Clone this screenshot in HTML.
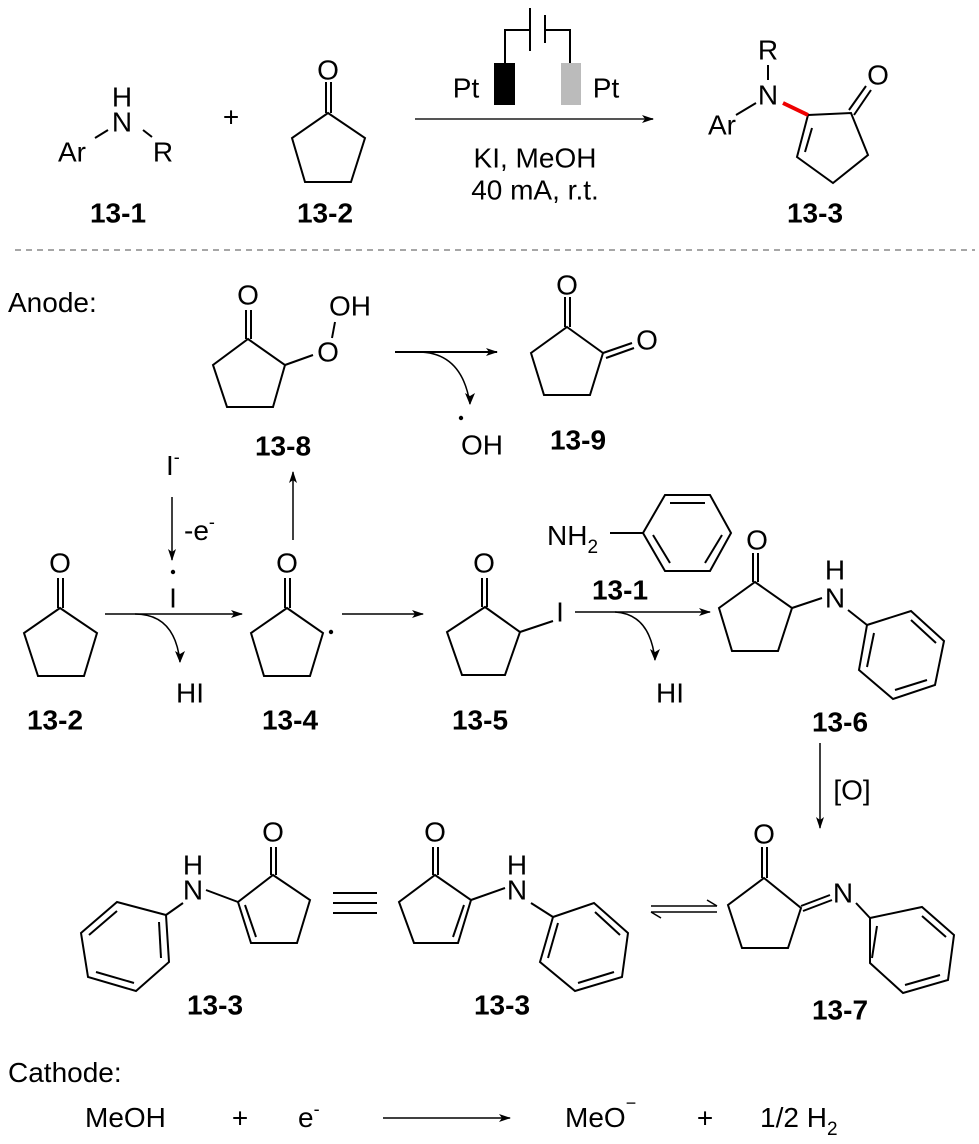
<!DOCTYPE html>
<html><head><meta charset="utf-8"><style>
html,body{margin:0;padding:0;background:#fff;}
svg{display:block;}
text{font-family:"Liberation Sans",Arial,sans-serif;fill:#000;}
.a{font-size:28px;text-anchor:middle;dominant-baseline:central;}
.b{font-size:28px;font-weight:bold;text-anchor:middle;dominant-baseline:central;}
.t{font-size:28px;}
</style></head><body>
<svg width="979" height="1144" viewBox="0 0 979 1144" xmlns="http://www.w3.org/2000/svg">
<defs>
<marker id="ah" markerWidth="12" markerHeight="8" refX="11" refY="4" orient="auto" markerUnits="userSpaceOnUse"><path d="M0,0 L12,4 L0,8 L3,4 Z" fill="#000"/></marker>
<marker id="ah2" markerWidth="10" markerHeight="12" refX="5" refY="11" orient="0" markerUnits="userSpaceOnUse"><path d="M0,0 L5,12 L10,0 L5,3 Z" fill="#000"/></marker>
</defs>
<g stroke="#000" stroke-width="2" fill="none">
<line x1="95" y1="138" x2="108" y2="130"/><line x1="143" y1="130" x2="152" y2="137"/>
<line x1="326" y1="82" x2="326" y2="113"/><line x1="331" y1="82" x2="331" y2="113"/>
<polygon points="328,113 365,138 351,182 305,182 292,138"/>
<line x1="415" y1="119" x2="653" y2="119" stroke="#555" marker-end="url(#ah)"/>
<polyline points="505,63 505,30 530,30"/><line x1="530" y1="8" x2="530" y2="51"/>
<line x1="545" y1="15" x2="545" y2="43"/><polyline points="545,30 570,30 570,63"/>
<line x1="736" y1="115" x2="756" y2="103"/><line x1="768" y1="65" x2="768" y2="80"/>
<polygon points="808,115 851,113 868,155 833,183 797,157"/>
<line x1="812" y1="128" x2="805" y2="152"/>
<line x1="849" y1="110" x2="866" y2="86"/><line x1="854" y1="115" x2="871" y2="90"/>
<line x1="246" y1="310" x2="246" y2="339"/><line x1="251" y1="310" x2="251" y2="339"/>
<polygon points="248,339 285,365 273,407 227,407 213,365"/>
<line x1="285" y1="365" x2="313" y2="355"/><line x1="332" y1="338" x2="335" y2="322"/>
<line x1="395" y1="352" x2="497" y2="352" marker-end="url(#ah)"/>
<path d="M418,352 Q462,352 470,404" marker-end="url(#ah2)" stroke-width="1.5"/>
<line x1="565" y1="297" x2="565" y2="327"/><line x1="570" y1="297" x2="570" y2="327"/>
<polygon points="567,327 603,353 590,395 544,395 531,353"/>
<line x1="603" y1="353" x2="632" y2="343"/><line x1="606" y1="358" x2="634" y2="348"/>
<line x1="172" y1="497" x2="172" y2="560" stroke-width="1.5" marker-end="url(#ah)"/>
<line x1="293" y1="540" x2="293" y2="472" stroke-width="1.5" marker-end="url(#ah)"/>
<line x1="58" y1="578" x2="58" y2="608"/><line x1="63" y1="578" x2="63" y2="608"/>
<polygon points="60,608 97,633 84,676 38,676 24,633"/>
<line x1="105" y1="614" x2="242" y2="614" stroke-width="1.5" marker-end="url(#ah)"/>
<path d="M135,614 Q175,614 180,662" marker-end="url(#ah2)" stroke-width="1.5"/>
<line x1="285" y1="578" x2="285" y2="608"/><line x1="290" y1="578" x2="290" y2="608"/>
<polygon points="287,608 323,633 310,676 264,676 251,633"/>
<line x1="342" y1="614" x2="423" y2="614" stroke-width="1.5" marker-end="url(#ah)"/>
<line x1="482" y1="578" x2="482" y2="607"/><line x1="487" y1="578" x2="487" y2="607"/>
<polygon points="485,607 520,632 505,675 462,675 447,632"/>
<line x1="520" y1="632" x2="553" y2="621"/>
<line x1="575" y1="612" x2="710" y2="612" stroke-width="1.5" marker-end="url(#ah)"/>
<path d="M615,612 Q650,614 655,660" marker-end="url(#ah2)" stroke-width="1.5"/>
<line x1="610" y1="533" x2="643" y2="533"/>
<polygon points="643,533 665,495 710,495 731,533 710,571 665,571"/>
<line x1="670" y1="503" x2="705" y2="503"/><line x1="722" y1="535" x2="705" y2="563"/><line x1="670" y1="563" x2="653" y2="535"/>
<line x1="753" y1="553" x2="753" y2="582"/><line x1="758" y1="553" x2="758" y2="582"/>
<polygon points="755,582 792,608 778,651 732,651 719,608"/>
<line x1="792" y1="608" x2="822" y2="598"/><line x1="848" y1="610" x2="867" y2="625"/>
<polygon points="867,625 911,611 944,641 935,685 893,699 859,670"/>
<line x1="874" y1="633" x2="867" y2="667"/><line x1="911" y1="620" x2="936" y2="643"/><line x1="927" y1="680" x2="895" y2="690"/>
<line x1="820" y1="743" x2="820" y2="828" stroke-width="1.5" marker-end="url(#ah)"/>
<line x1="762" y1="847" x2="762" y2="878"/><line x1="767" y1="847" x2="767" y2="878"/>
<polygon points="764,878 801,908 788,948 742,948 728,905"/>
<line x1="801" y1="906" x2="830" y2="895"/><line x1="803" y1="911" x2="832" y2="900"/>
<line x1="856" y1="903" x2="870" y2="918"/>
<polygon points="870,918 922,907 954,935 948,980 903,993 870,963"/>
<line x1="877" y1="926" x2="872" y2="958"/><line x1="922" y1="916" x2="946" y2="937"/><line x1="940" y1="975" x2="905" y2="985"/>
<line x1="651" y1="906" x2="717" y2="906" stroke-width="1.5"/><path d="M707,900 L717,906" stroke-width="1.5"/>
<line x1="651" y1="912" x2="717" y2="912" stroke-width="1.5"/><path d="M651,912 L661,918" stroke-width="1.5"/>
<line x1="333" y1="893" x2="377" y2="893"/><line x1="333" y1="903" x2="377" y2="903"/><line x1="333" y1="913" x2="377" y2="913"/>
<line x1="433" y1="847" x2="433" y2="875"/><line x1="438" y1="847" x2="438" y2="875"/>
<polygon points="435,875 471,900 458,943 414,943 399,902"/>
<line x1="464" y1="905" x2="453" y2="937"/>
<line x1="471" y1="900" x2="505" y2="888"/><line x1="531" y1="903" x2="553" y2="917"/>
<polygon points="553,917 594,903 628,933 622,977 575,991 540,962"/>
<line x1="595" y1="912" x2="620" y2="935"/><line x1="614" y1="972" x2="578" y2="983"/><line x1="548" y1="958" x2="558" y2="923"/>
<line x1="271" y1="847" x2="271" y2="875"/><line x1="276" y1="847" x2="276" y2="875"/>
<polygon points="273,875 310,900 297,943 251,943 238,902"/>
<line x1="245" y1="905" x2="256" y2="937"/>
<line x1="238" y1="902" x2="206" y2="890"/><line x1="183" y1="903" x2="166" y2="915"/>
<polygon points="166,915 117,902 81,933 88,977 136,991 169,962"/>
<line x1="117" y1="911" x2="89" y2="935"/><line x1="96" y1="972" x2="134" y2="983"/><line x1="161" y1="958" x2="159" y2="922"/>
<line x1="383" y1="1118" x2="510" y2="1118" stroke-width="1.5" marker-end="url(#ah)"/>
</g>
<line x1="783" y1="103" x2="808" y2="115" stroke="#e00" stroke-width="4"/>
<line x1="15" y1="250" x2="975" y2="250" stroke="#888" stroke-width="1.5" stroke-dasharray="6,5"/>
<rect x="494" y="63" width="21" height="42" fill="#000"/>
<rect x="561" y="63" width="20" height="42" fill="#bbb"/>
<text class="a" x="122" y="97">H</text><text class="a" x="122" y="122">N</text>
<text class="a" x="72" y="152">Ar</text><text class="a" x="163" y="152">R</text>
<text class="b" x="118" y="213">13-1</text>
<text class="a" x="231" y="117">+</text>
<text class="a" x="328" y="70">O</text><text class="b" x="325" y="213">13-2</text>
<text class="a" x="466" y="88">Pt</text><text class="a" x="606" y="88">Pt</text>
<text class="a" x="535" y="158">KI, MeOH</text><text class="a" x="535" y="190">40 mA, r.t.</text>
<text class="a" x="768" y="50">R</text><text class="a" x="768" y="95">N</text>
<text class="a" x="722" y="125">Ar</text><text class="a" x="878" y="75">O</text>
<text class="b" x="815" y="213">13-3</text>
<text class="t" x="8" y="312">Anode:</text>
<text class="a" x="248" y="295">O</text><text class="a" x="328" y="352">O</text><text class="a" x="350" y="306">OH</text>
<text class="b" x="283" y="446">13-8</text>
<circle cx="461" cy="418" r="2.2" fill="#000"/><text class="a" x="482" y="445">OH</text>
<text class="a" x="567" y="285">O</text><text class="a" x="647" y="340">O</text><text class="b" x="578" y="440">13-9</text>
<text class="t" x="166" y="475">I<tspan font-size="18" dy="-12">-</tspan></text>
<text class="t" x="184" y="540">-e<tspan font-size="18" dy="-12">-</tspan></text>
<circle cx="173" cy="572" r="2.2" fill="#000"/><text class="a" x="173" y="598">I</text>
<text class="a" x="60" y="563">O</text><text class="b" x="55" y="720">13-2</text>
<text class="a" x="190" y="693">HI</text>
<text class="a" x="287" y="563">O</text><circle cx="331" cy="632" r="2.2" fill="#000"/><text class="b" x="290" y="720">13-4</text>
<text class="a" x="484" y="563">O</text><text class="a" x="560" y="612">I</text><text class="b" x="480" y="720">13-5</text>
<text class="a" x="670" y="693">HI</text>
<text class="t" x="547" y="545">NH<tspan font-size="19" dy="8">2</tspan></text>
<text class="b" x="620" y="590">13-1</text>
<text class="a" x="757" y="540">O</text><text class="a" x="835" y="570">H</text><text class="a" x="835" y="598">N</text>
<text class="b" x="840" y="722">13-6</text>
<text class="a" x="852" y="790">[O]</text>
<text class="a" x="764" y="834">O</text><text class="a" x="843" y="893">N</text><text class="b" x="840" y="1010">13-7</text>
<text class="a" x="435" y="832">O</text><text class="a" x="517" y="865">H</text><text class="a" x="517" y="890">N</text><text class="b" x="502" y="1005">13-3</text>
<text class="a" x="273" y="832">O</text><text class="a" x="193" y="865">H</text><text class="a" x="193" y="890">N</text><text class="b" x="215" y="1005">13-3</text>
<text class="t" x="8" y="1082">Cathode:</text>
<text class="t" x="85" y="1127">MeOH</text><text class="a" x="240" y="1118">+</text>
<text class="t" x="298" y="1127">e<tspan font-size="18" dy="-12">-</tspan></text>
<text class="t" x="565" y="1127">MeO<tspan font-size="18" dy="-18">−</tspan></text>
<text class="a" x="705" y="1118">+</text>
<text class="t" x="760" y="1127">1/2 H<tspan font-size="19" dy="8">2</tspan></text>
</svg>
</body></html>
